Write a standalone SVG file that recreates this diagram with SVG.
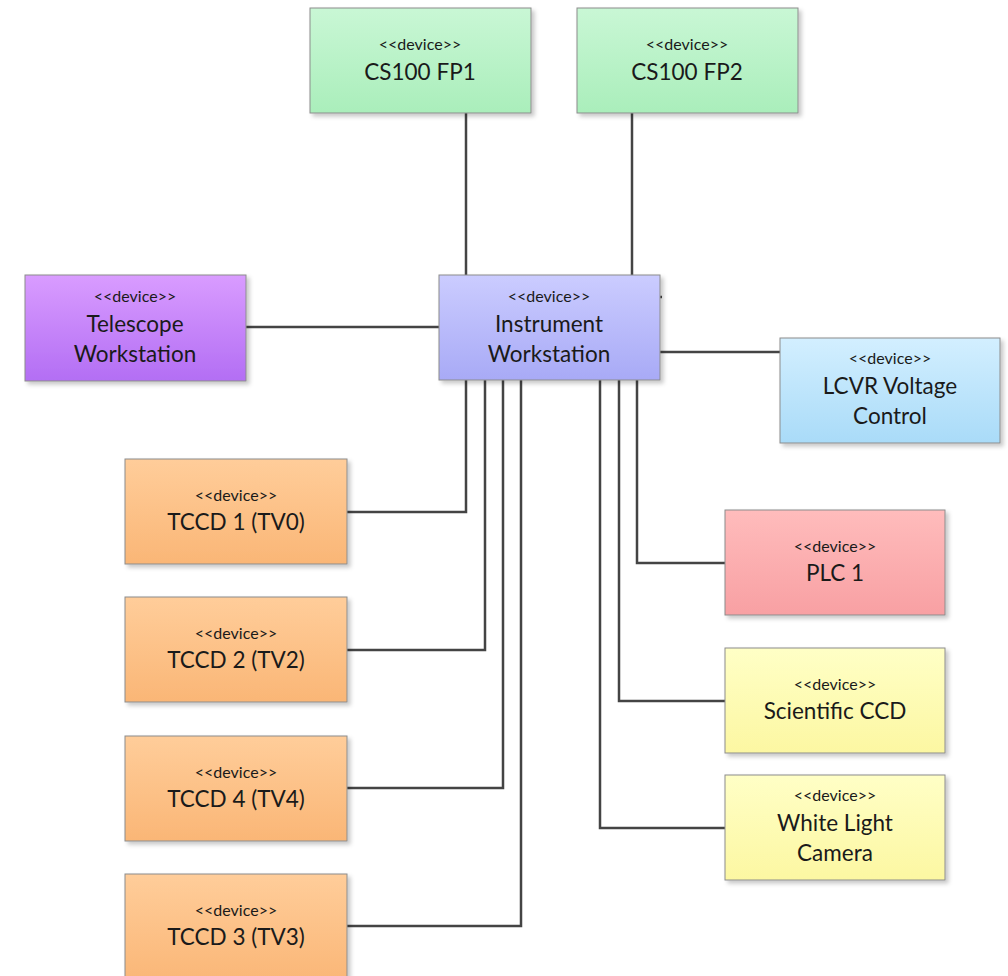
<svg xmlns="http://www.w3.org/2000/svg" width="1008" height="976" viewBox="0 0 1008 976">
<defs>
<linearGradient id="gGreen" x1="0" y1="0" x2="0" y2="1"><stop offset="0" stop-color="#c9f7d5"/><stop offset="1" stop-color="#aaeebb"/></linearGradient>
<linearGradient id="gPurple" x1="0" y1="0" x2="0" y2="1"><stop offset="0" stop-color="#d99cff"/><stop offset="1" stop-color="#b36ef4"/></linearGradient>
<linearGradient id="gBlue" x1="0" y1="0" x2="0" y2="1"><stop offset="0" stop-color="#cbccff"/><stop offset="1" stop-color="#a8aaf6"/></linearGradient>
<linearGradient id="gSky" x1="0" y1="0" x2="0" y2="1"><stop offset="0" stop-color="#d3efff"/><stop offset="1" stop-color="#a9dbf8"/></linearGradient>
<linearGradient id="gOrange" x1="0" y1="0" x2="0" y2="1"><stop offset="0" stop-color="#ffcd9a"/><stop offset="1" stop-color="#fab676"/></linearGradient>
<linearGradient id="gPink" x1="0" y1="0" x2="0" y2="1"><stop offset="0" stop-color="#ffbcbc"/><stop offset="1" stop-color="#f8a0a3"/></linearGradient>
<linearGradient id="gYellow" x1="0" y1="0" x2="0" y2="1"><stop offset="0" stop-color="#ffffc6"/><stop offset="1" stop-color="#fcf7a2"/></linearGradient>
<filter id="sh" x="-10%" y="-10%" width="125%" height="130%"><feDropShadow dx="3" dy="3" stdDeviation="2" flood-color="#000" flood-opacity="0.22"/></filter>
</defs>
<style>
.box{stroke:#8c8c8c;stroke-width:1;filter:url(#sh)}
.st{font-family:Lato,"Open Sans",sans-serif;font-size:16px;fill:#1a1a1a;text-anchor:middle}
.nm{font-family:Lato,"Open Sans",sans-serif;font-size:22.5px;fill:#1a1a1a;text-anchor:middle}
.c{fill:none;stroke:#444;stroke-width:2.5}
</style>
<rect width="1008" height="976" fill="#fff"/>
<g id="connectors">
<path class="c" d="M466 113V275"/>
<path class="c" d="M632 113V275"/>
<path class="c" d="M658 297H662"/>
<path class="c" d="M246 327H439"/>
<path class="c" d="M660 352H780"/>
<path class="c" d="M466 380V512H347"/>
<path class="c" d="M485 380V650H347"/>
<path class="c" d="M503 380V788H347"/>
<path class="c" d="M521 380V926H347"/>
<path class="c" d="M637 380V563H725"/>
<path class="c" d="M619 380V701H725"/>
<path class="c" d="M600 380V828H725"/>
</g>
<g id="fp1"><rect class="box" x="310" y="8" width="221" height="105" fill="url(#gGreen)"/><text class="st" x="420" y="50">&lt;&lt;device&gt;&gt;</text><text class="nm" x="420" y="80">CS100 FP1</text></g>
<g id="fp2"><rect class="box" x="577" y="8" width="221" height="105" fill="url(#gGreen)"/><text class="st" x="687" y="50">&lt;&lt;device&gt;&gt;</text><text class="nm" x="687" y="80">CS100 FP2</text></g>
<g id="telescope"><rect class="box" x="25" y="275" width="221" height="106" fill="url(#gPurple)"/><text class="st" x="135" y="302">&lt;&lt;device&gt;&gt;</text><text class="nm" x="135" y="332">Telescope</text><text class="nm" x="135" y="362">Workstation</text></g>
<g id="instrument"><rect class="box" x="439" y="275" width="221" height="105" fill="url(#gBlue)"/><text class="st" x="549" y="302">&lt;&lt;device&gt;&gt;</text><text class="nm" x="549" y="332">Instrument</text><text class="nm" x="549" y="362">Workstation</text></g>
<g id="lcvr"><rect class="box" x="780" y="338" width="220" height="105" fill="url(#gSky)"/><text class="st" x="890" y="364">&lt;&lt;device&gt;&gt;</text><text class="nm" x="890" y="394">LCVR Voltage</text><text class="nm" x="890" y="424">Control</text></g>
<g id="tccd1"><rect class="box" x="125" y="459" width="222" height="105" fill="url(#gOrange)"/><text class="st" x="236" y="501">&lt;&lt;device&gt;&gt;</text><text class="nm" x="236" y="530">TCCD 1 (TV0)</text></g>
<g id="tccd2"><rect class="box" x="125" y="597" width="222" height="105" fill="url(#gOrange)"/><text class="st" x="236" y="639">&lt;&lt;device&gt;&gt;</text><text class="nm" x="236" y="668">TCCD 2 (TV2)</text></g>
<g id="tccd4"><rect class="box" x="125" y="736" width="222" height="105" fill="url(#gOrange)"/><text class="st" x="236" y="778">&lt;&lt;device&gt;&gt;</text><text class="nm" x="236" y="807">TCCD 4 (TV4)</text></g>
<g id="tccd3"><rect class="box" x="125" y="874" width="222" height="110" fill="url(#gOrange)"/><text class="st" x="236" y="916">&lt;&lt;device&gt;&gt;</text><text class="nm" x="236" y="945">TCCD 3 (TV3)</text></g>
<g id="plc1"><rect class="box" x="725" y="510" width="220" height="105" fill="url(#gPink)"/><text class="st" x="835" y="552">&lt;&lt;device&gt;&gt;</text><text class="nm" x="835" y="581">PLC 1</text></g>
<g id="sciccd"><rect class="box" x="725" y="648" width="220" height="105" fill="url(#gYellow)"/><text class="st" x="835" y="690">&lt;&lt;device&gt;&gt;</text><text class="nm" x="835" y="719">Scientific CCD</text></g>
<g id="wlc"><rect class="box" x="725" y="775" width="220" height="105" fill="url(#gYellow)"/><text class="st" x="835" y="801">&lt;&lt;device&gt;&gt;</text><text class="nm" x="835" y="831">White Light</text><text class="nm" x="835" y="861">Camera</text></g>
</svg>
